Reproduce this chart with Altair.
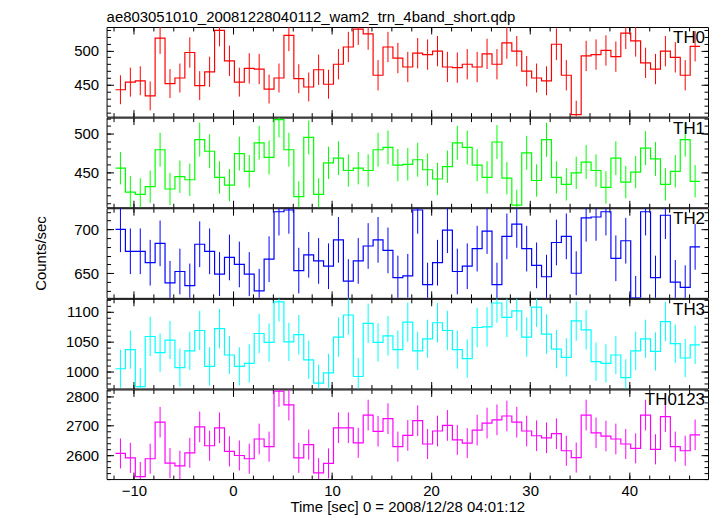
import altair as alt
import pandas as pd

# ---------------- data ----------------
T_FIRST = -11.35   # centre of first 1-s bin
BIN = 1.0
N_BINS = 59
TIME = [round(T_FIRST + BIN * k, 2) for k in range(N_BINS)]

TH0 = [443, 454, 456, 434, 518, 452, 460, 497, 449, 469, 529, 485, 454, 474, 473,
       444, 460, 522, 459, 447, 472, 451, 480, 505, 531, 524, 464, 505, 489, 476,
       496, 494, 499, 476, 475, 480, 476, 495, 480, 511, 499, 470, 460, 456, 509,
       464, 407, 492, 494, 500, 491, 525, 514, 482, 473, 499, 490, 464, 506]
ERR0 = [21, 21, 21, 21, 23, 21, 21, 22, 21, 22, 23, 22, 21, 22, 22,
        21, 21, 23, 21, 21, 22, 21, 22, 22, 23, 23, 22, 22, 22, 22,
        22, 22, 22, 22, 22, 22, 22, 22, 22, 23, 22, 22, 21, 21, 23,
        22, 20, 22, 22, 22, 22, 23, 23, 22, 22, 22, 22, 22, 22]

TH1 = [455, 424, 421, 431, 479, 428, 444, 440, 492, 477, 443, 433, 474, 451, 488,
       469, 518, 479, 418, 495, 421, 462, 468, 452, 455, 452, 479, 482, 459, 460,
       466, 453, 441, 457, 488, 482, 459, 443, 489, 442, 407, 475, 439, 492, 443,
       434, 449, 463, 452, 430, 468, 437, 450, 481, 467, 434, 451, 492, 438]
ERR1 = [21, 21, 21, 21, 22, 21, 21, 21, 22, 22, 21, 21, 22, 21, 22,
        22, 23, 22, 20, 22, 21, 21, 22, 21, 21, 21, 22, 22, 21, 21,
        22, 21, 21, 21, 22, 22, 21, 21, 22, 21, 20, 22, 21, 22, 21,
        21, 21, 22, 21, 21, 22, 21, 21, 22, 22, 21, 21, 22, 21]

TH2 = [700, 675, 675, 662, 684, 639, 652, 636, 683, 675, 649, 668, 660, 649, 630,
       666, 720, 722, 653, 671, 664, 658, 688, 641, 664, 681, 688, 676, 645, 647,
       722, 637, 662, 699, 652, 658, 678, 698, 637, 692, 706, 678, 659, 646, 685,
       692, 650, 713, 714, 720, 667, 687, 622, 720, 645, 716, 640, 634, 680]
ERR2 = [26, 26, 26, 26, 26, 25, 26, 25, 26, 26, 25, 26, 26, 25, 25,
        26, 27, 27, 26, 26, 26, 26, 26, 25, 26, 26, 26, 26, 25, 25,
        27, 25, 26, 26, 26, 26, 26, 26, 25, 26, 27, 26, 26, 25, 26,
        26, 25, 27, 27, 27, 26, 26, 25, 27, 25, 27, 25, 25, 26]

TH3 = [1004, 1036, 974, 1058, 1031, 1052, 1006, 1034, 1068, 1008, 1071, 1027, 1008, 1013, 1063,
       1048, 1116, 1049, 1061, 1019, 980, 997, 1057, 1094, 991, 1080, 1048, 1059, 1036, 1082,
       1034, 1054, 1081, 1068, 1036, 1021, 1073, 1074, 1114, 1090, 1101, 1057, 1107, 1062, 1037,
       1023, 1084, 1069, 1016, 1013, 1027, 989, 1034, 1054, 1033, 1083, 1046, 1022, 1044]
ERR3 = [32, 32, 31, 33, 32, 32, 32, 32, 33, 32, 33, 32, 32, 32, 33,
        32, 33, 32, 33, 32, 31, 32, 33, 33, 31, 33, 32, 33, 32, 33,
        32, 32, 33, 33, 32, 32, 33, 33, 33, 33, 33, 33, 33, 33, 32,
        32, 33, 33, 32, 32, 32, 31, 32, 32, 32, 33, 32, 32, 32]

TH0123 = [2606, 2591, 2527, 2588, 2712, 2573, 2564, 2608, 2696, 2632, 2693, 2613, 2599, 2588, 2655,
          2629, 2817, 2771, 2591, 2636, 2540, 2572, 2693, 2693, 2642, 2736, 2681, 2724, 2629, 2667,
          2717, 2638, 2682, 2701, 2652, 2641, 2685, 2709, 2720, 2733, 2712, 2682, 2666, 2659, 2673,
          2615, 2592, 2736, 2676, 2665, 2655, 2638, 2623, 2736, 2620, 2731, 2629, 2615, 2669]
ERR0123 = [51, 51, 50, 51, 52, 51, 51, 51, 52, 51, 52, 51, 51, 51, 52,
           51, 53, 53, 51, 51, 50, 51, 52, 52, 51, 52, 52, 52, 51, 52,
           52, 51, 52, 52, 51, 51, 52, 52, 52, 52, 52, 52, 52, 52, 52,
           51, 51, 52, 52, 52, 52, 51, 51, 52, 51, 52, 51, 51, 52]

NAMES = ["TH0", "TH1", "TH2", "TH3", "TH0123"]
COLORS = ["#ff0000", "#00ff00", "#0000ff", "#00ffff", "#ff00ff"]
Y_DOMAINS = [[404, 534], [404.3, 520.7], [622, 724], [971, 1121], [2519, 2823]]
Y_LABELS = [[450, 500], [450, 500], [650, 700], [1000, 1050, 1100], [2600, 2700, 2800]]
Y_MINOR = [list(range(410, 531, 10)), list(range(410, 521, 10)), list(range(630, 721, 10)),
           list(range(980, 1121, 10)), list(range(2520, 2821, 20))]

X_DOMAIN = [-12.75, 47.95]
X_MAJOR = [-10, 0, 10, 20, 30, 40]
X_MINOR = list(range(-12, 48, 2))

TITLE = "ae803051010_20081228040112_wam2_trn_4band_short.qdp"
X_TITLE = "Time [sec] 0 = 2008/12/28 04:01:12"
Y_TITLE = "Counts/sec"

W, H = 604, 90
FONT = "Liberation Sans"
FS = 15
MAJ, MIN = 7, 4


def tick_axis(orient, values, size):
    return alt.Axis(orient=orient, values=values, tickSize=size, offset=-size,
                    labels=False, domain=False, grid=False, title=None,
                    ticks=True, tickColor="black", tickWidth=1)


def panel(i):
    vals, errs = [TH0, TH1, TH2, TH3, TH0123][i], [ERR0, ERR1, ERR2, ERR3, ERR0123][i]
    color = COLORS[i]
    bottom = i == len(NAMES) - 1
    df = pd.DataFrame({"t": TIME, "v": vals,
                       "lo": [v - e for v, e in zip(vals, errs)],
                       "hi": [v + e for v, e in zip(vals, errs)]})
    step = pd.DataFrame({"t": [t - BIN / 2 for t in TIME] + [TIME[-1] + BIN / 2],
                         "v": vals + [vals[-1]]})
    xs = alt.Scale(domain=X_DOMAIN, nice=False, zero=False)
    ys = alt.Scale(domain=Y_DOMAINS[i], nice=False, zero=False)

    layers = []
    layers.append(alt.Chart(step).mark_line(interpolate="step-after", color=color,
                                            strokeWidth=1.2, clip=True).encode(
        x=alt.X("t:Q", scale=xs, axis=tick_axis("bottom", X_MAJOR, MAJ)),
        y=alt.Y("v:Q", scale=ys, axis=tick_axis("left", Y_LABELS[i], MAJ))))
    layers.append(alt.Chart(df).mark_rule(color=color, strokeWidth=1, clip=True).encode(
        x=alt.X("t:Q", scale=xs, axis=tick_axis("bottom", X_MINOR, MIN)),
        y=alt.Y("lo:Q", scale=ys, axis=tick_axis("left", Y_MINOR[i], MIN)),
        y2="hi:Q"))
    ghost = alt.Chart(df).mark_point(opacity=0, size=0, strokeWidth=0, clip=True)
    layers.append(ghost.encode(
        x=alt.X("t:Q", scale=xs, axis=tick_axis("top", X_MAJOR, MAJ)),
        y=alt.Y("v:Q", scale=ys, axis=tick_axis("right", Y_LABELS[i], MAJ))))
    layers.append(ghost.encode(
        x=alt.X("t:Q", scale=xs, axis=tick_axis("top", X_MINOR, MIN)),
        y=alt.Y("v:Q", scale=ys, axis=tick_axis("right", Y_MINOR[i], MIN))))

    ylab_kwargs = dict(orient="left", values=Y_LABELS[i], ticks=False, domain=False,
                       grid=False, labelPadding=8, labelFont=FONT, labelFontSize=FS,
                       labelColor="black", format="d")
    if i == 2:
        ylab_kwargs.update(title=Y_TITLE, titleFont=FONT, titleFontSize=FS,
                           titleFontWeight="normal", titleColor="black",
                           titleAngle=-90, titleX=-66, titleY=H / 2,
                           titleAlign="center", titleBaseline="middle")
    else:
        ylab_kwargs.update(title=None)
    if bottom:
        xlab = alt.Axis(orient="bottom", values=X_MAJOR, ticks=False, domain=False,
                        grid=False, labelPadding=4, labelFont=FONT, labelFontSize=FS,
                        labelColor="black", title=X_TITLE, titleFont=FONT,
                        titleFontSize=FS, titleFontWeight="normal", titleColor="black",
                        titlePadding=2, format="d")
    else:
        xlab = None
    layers.append(ghost.encode(
        x=alt.X("t:Q", scale=xs, axis=xlab),
        y=alt.Y("v:Q", scale=ys, axis=alt.Axis(**ylab_kwargs))))
    layers.append(alt.Chart(pd.DataFrame({"name": [NAMES[i]]})).mark_text(
        align="right", baseline="middle", font=FONT, fontSize=17, color="black"
    ).encode(x=alt.value(W - 3), y=alt.value(11), text="name:N"))

    ch = alt.layer(*layers).resolve_axis(x="independent", y="independent").properties(
        width=W, height=H)
    if i == 0:
        ch = ch.properties(title=alt.TitleParams(TITLE, anchor="start", frame="group",
                                                 font=FONT, fontSize=FS, fontWeight="normal",
                                                 color="black", offset=1.5))
    return ch


chart = alt.vconcat(*[panel(i) for i in range(len(NAMES))], spacing=-1.5).properties(
    padding={"left": 25, "top": 0, "right": 0, "bottom": 0}
).configure_view(stroke="black")

chart.save("out.html", embed_options={"renderer": "svg", "actions": False})
